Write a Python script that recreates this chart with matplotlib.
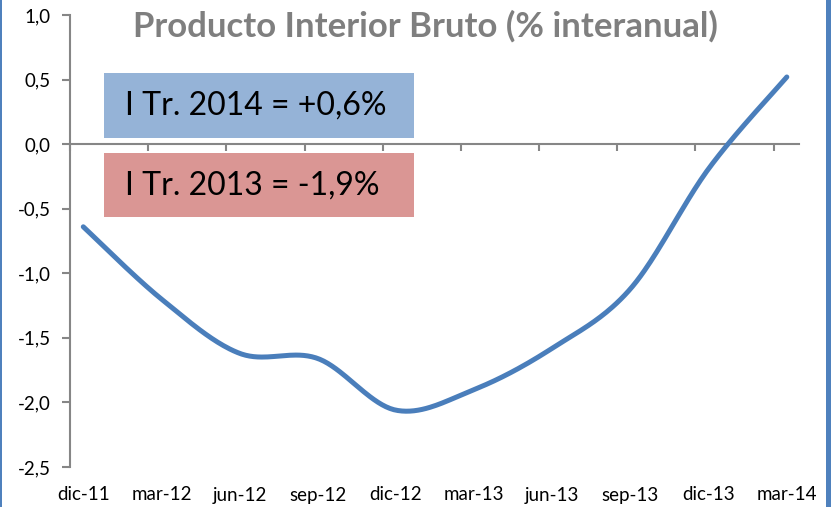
import numpy as np
import matplotlib
matplotlib.use("Agg")
import matplotlib.pyplot as plt
from matplotlib.patches import Rectangle
import matplotlib.transforms as mtransforms

plt.rcParams['font.family'] = ['Lato', 'DejaVu Sans']

categories = ["dic-11", "mar-12", "jun-12", "sep-12", "dic-12",
              "mar-13", "jun-13", "sep-13", "dic-13", "mar-14"]
pib = [-0.64, -1.20, -1.62, -1.66, -2.06, -1.90, -1.58, -1.12, -0.19, 0.52]
yticks = [-2.5, -2.0, -1.5, -1.0, -0.5, 0.0, 0.5, 1.0]
title = "Producto Interior Bruto (% interanual)"
box_2014 = "I Tr. 2014 = +0,6%"
box_2013 = "I Tr. 2013 = -1,9%"

W, H = 832, 507
fig = plt.figure(figsize=(W / 100, H / 100), dpi=100)
fig.patch.set_facecolor("white")

def fx(px):
    return px / W

def fy(py):
    return 1 - py / H

ax = fig.add_axes([fx(70), fy(467), fx(799) - fx(70), fy(15) - fy(467)])
ax.set_facecolor("none")

# Smoothed line (Excel-like bezier smoothing)
x = np.arange(len(pib), dtype=float)
y = np.array(pib, dtype=float)
xs, ys = [], []
n = len(x)
for i in range(n - 1):
    p0 = np.array([x[i], y[i]])
    p3 = np.array([x[i + 1], y[i + 1]])
    pm = np.array([x[i - 1], y[i - 1]]) if i > 0 else p0
    pp = np.array([x[i + 2], y[i + 2]]) if i + 2 < n else p3
    c1 = p0 + (p3 - pm) / 6
    c2 = p3 - (pp - p0) / 6
    t = np.linspace(0, 1, 40)[:, None]
    pts = (1 - t) ** 3 * p0 + 3 * (1 - t) ** 2 * t * c1 + 3 * (1 - t) * t ** 2 * c2 + t ** 3 * p3
    xs.extend(pts[:, 0]); ys.extend(pts[:, 1])
ax.plot(xs, ys, color="#4A7EBB", lw=3.6, solid_capstyle="round", zorder=3)

ax.set_xlim(-0.166, 9.156)
ax.set_ylim(-2.5, 1.0)

grey = "#868686"
for s in ["top", "right"]:
    ax.spines[s].set_visible(False)
ax.spines["left"].set_color(grey)
ax.spines["left"].set_linewidth(1.5)
ax.spines["bottom"].set_color(grey)
ax.spines["bottom"].set_linewidth(1.5)
ax.spines["bottom"].set_position(("data", 0))

ax.set_yticks(yticks)
ax.set_yticklabels([f"{v:.1f}".replace(".", ",") for v in yticks], fontsize=13.5)
ax.tick_params(axis="y", direction="out", length=6, width=1.5, color=grey, pad=8, labelcolor="black")
ax.set_xticks(np.arange(len(categories)) - 0.17)
ax.set_xticklabels([])
ax.tick_params(axis="x", direction="out", length=5, width=1.5, color=grey)

trans = mtransforms.blended_transform_factory(ax.transData, fig.transFigure)
for i, c in enumerate(categories):
    ax.text(i, fy(495), c, transform=trans, ha="center", va="center", fontsize=13.5, color="black")

fig.text(fx(425), fy(26), title, ha="center", va="center", fontsize=25, fontweight="bold", color="#7F7F7F")

# annotation boxes
fig.patches.append(Rectangle((fx(104), fy(138)), fx(414) - fx(104), fy(73) - fy(138),
                             transform=fig.transFigure, facecolor="#95B3D7", edgecolor="none", zorder=5))
fig.patches.append(Rectangle((fx(104), fy(217)), fx(414) - fx(104), fy(153) - fy(217),
                             transform=fig.transFigure, facecolor="#DA9694", edgecolor="none", zorder=5))
fig.text(fx(125), fy(106), box_2014, ha="left", va="center", fontsize=23, color="black", zorder=6)
fig.text(fx(125), fy(186), box_2013, ha="left", va="center", fontsize=23, color="black", zorder=6)

# figure border lines (blue)
fig.patches.append(Rectangle((0, 0), fx(2), 1, transform=fig.transFigure, facecolor="#4F81BD", edgecolor="none"))
fig.patches.append(Rectangle((fx(826), 0), fx(5), 1, transform=fig.transFigure, facecolor="#4F81BD", edgecolor="none"))

fig.savefig("out.png", dpi=100)
